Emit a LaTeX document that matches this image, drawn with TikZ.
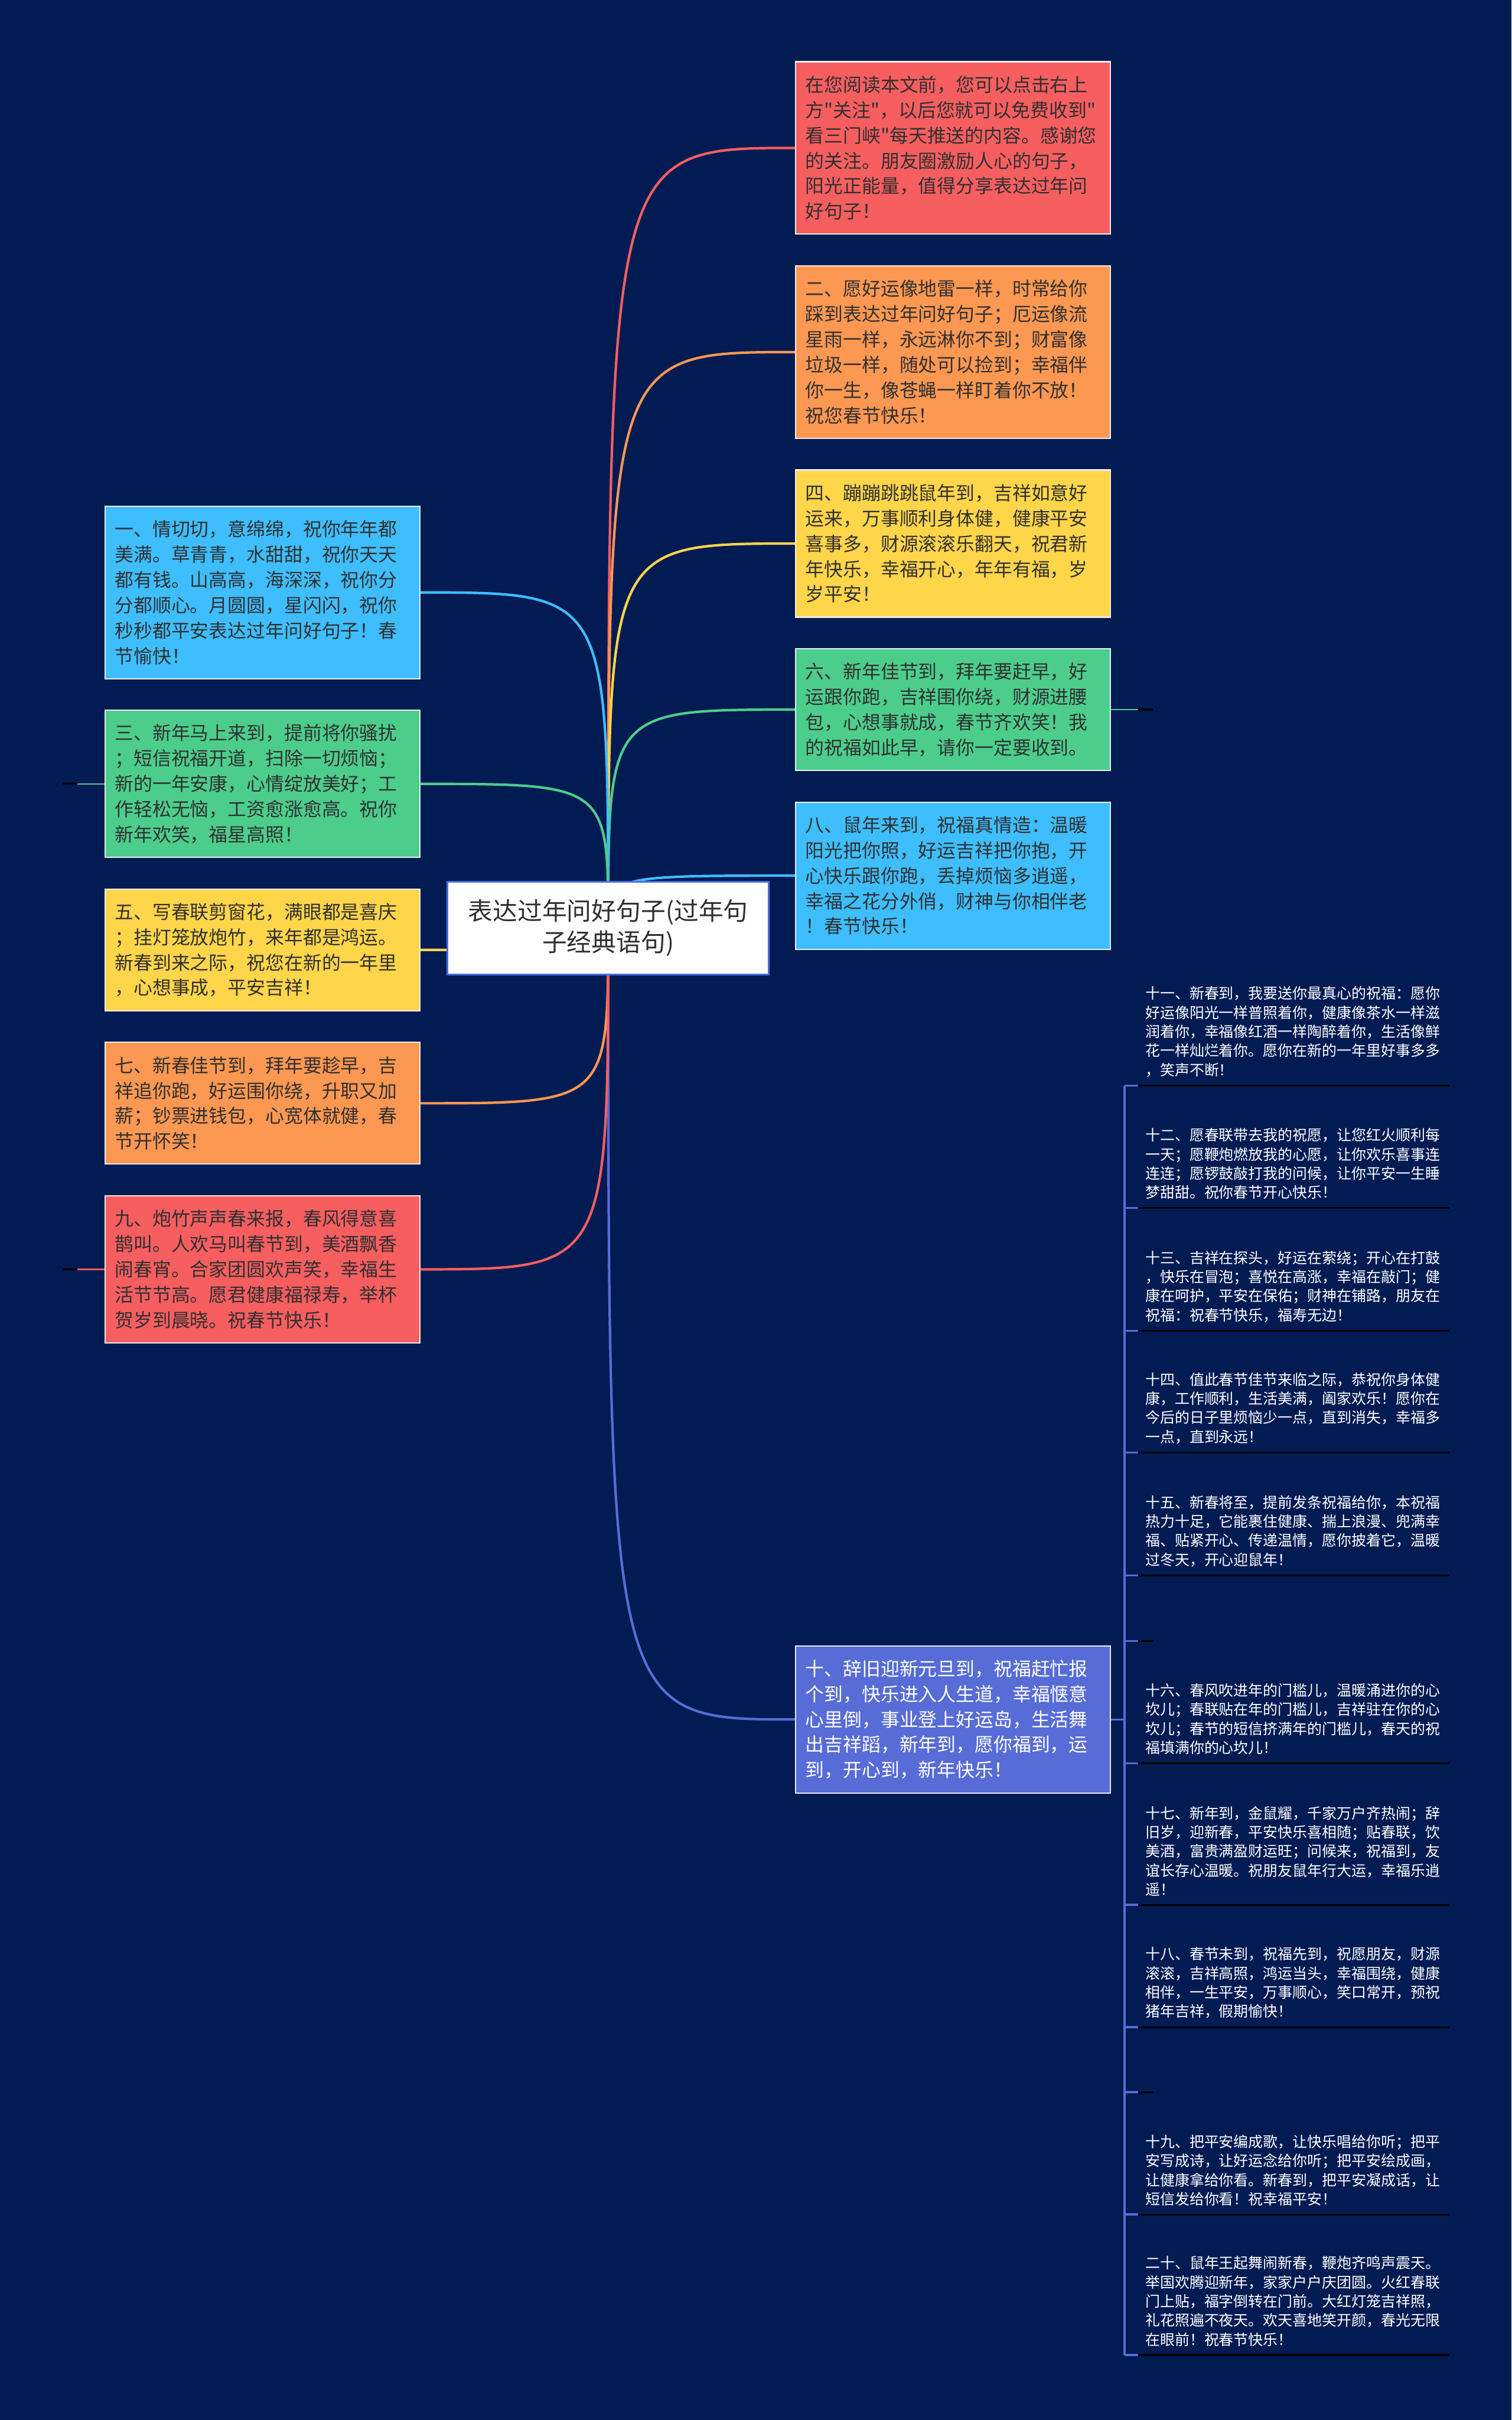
\documentclass[tikz,border=0pt]{standalone}
\usepackage{fontspec}
\setmainfont{Noto Sans CJK SC}
\newfontfamily\cjk{Noto Sans CJK SC}
\usepackage{xcolor}
\definecolor{bgnavy}{RGB}{2,27,83}
\definecolor{mred}{RGB}{246,94,96}
\definecolor{morange}{RGB}{253,152,82}
\definecolor{myellow}{RGB}{255,213,74}
\definecolor{mgreen}{RGB}{76,205,140}
\definecolor{msky}{RGB}{62,190,255}
\definecolor{mindigo}{RGB}{87,108,214}
\definecolor{rootline}{RGB}{74,112,222}
\definecolor{inktext}{RGB}{48,48,48}
\usepackage{tikz}
\usetikzlibrary{
    positioning
}
\tikzstyle{card} = [
    rectangle,
    draw=white!85!gray,
    line width=0.6pt,
    minimum width=5.33cm,
    text width=5.0cm,
    inner xsep=0.165cm,
    inner ysep=0.1cm,
    align=left,
    text=inktext,
    font=\cjk\fontsize{9.07}{12.2}\selectfont
]
\tikzstyle{rowssix} = [minimum height=2.92cm]
\tikzstyle{rowsfive} = [minimum height=2.49cm]
\tikzstyle{rowsfour} = [minimum height=2.06cm]
\tikzstyle{topic} = [
    rectangle,
    draw=rootline,
    fill=white,
    line width=0.8pt,
    minimum width=5.44cm,
    minimum height=1.57cm,
    align=center,
    text=inktext,
    font=\cjk\fontsize{11.9}{15}\selectfont
]
\tikzstyle{leaf} = [
    anchor=south west,
    inner xsep=0.12cm,
    inner ysep=0.14cm,
    text width=5.02cm,
    align=left,
    text=white,
    font=\cjk\fontsize{7.1}{9.2}\selectfont
]
\tikzstyle{link} = [
    line width=1.2pt
]
\tikzstyle{stub} = [
    line width=0.7pt
]
\tikzstyle{blank} = [
    line width=0.9pt,
    draw=black
]
\tikzstyle{fork} = [
    line width=1pt,
    draw=mindigo
]

\begin{document}
\begin{tikzpicture}[
    node distance=0.515cm
]
\useasboundingbox (0,0) rectangle (25.6,-40.97);
\fill[bgnavy] (0,0) rectangle (25.6,-40.97);

\coordinate (hub) at (10.30,-15.71);

% rechte Seite
\node (r1) [card, rowssix, fill=mred] at (16.14,-2.505)
    {在您阅读本文前，您可以点击右上\\方"关注"，以后您就可以免费收到"\\看三门峡"每天推送的内容。感谢您\\的关注。朋友圈激励人心的句子，\\阳光正能量，值得分享表达过年问\\好句子！};
\node (r2) [card, rowssix, fill=morange, below=of r1]
    {二、愿好运像地雷一样，时常给你\\踩到表达过年问好句子；厄运像流\\星雨一样，永远淋你不到；财富像\\垃圾一样，随处可以捡到；幸福伴\\你一生，像苍蝇一样盯着你不放！\\祝您春节快乐！};
\node (r3) [card, rowsfive, fill=myellow, below=of r2]
    {四、蹦蹦跳跳鼠年到，吉祥如意好\\运来，万事顺利身体健，健康平安\\喜事多，财源滚滚乐翻天，祝君新\\年快乐，幸福开心，年年有福，岁\\岁平安！};
\node (r4) [card, rowsfour, fill=mgreen, below=of r3]
    {六、新年佳节到，拜年要赶早，好\\运跟你跑，吉祥围你绕，财源进腰\\包，心想事就成，春节齐欢笑！我\\的祝福如此早，请你一定要收到。};
\node (r5) [card, rowsfive, fill=msky, below=of r4]
    {八、鼠年来到，祝福真情造：温暖\\阳光把你照，好运吉祥把你抱，开\\心快乐跟你跑，丢掉烦恼多逍遥，\\幸福之花分外俏，财神与你相伴老\\！春节快乐！};
\node (r10) [card, rowsfive, fill=mindigo, text=white] at (16.14,-29.11)
    {十、辞旧迎新元旦到，祝福赶忙报\\个到，快乐进入人生道，幸福惬意\\心里倒，事业登上好运岛，生活舞\\出吉祥蹈，新年到，愿你福到，运\\到，开心到，新年快乐！};

% linke Seite
\node (l1) [card, rowssix, fill=msky] at (4.445,-10.03)
    {一、情切切，意绵绵，祝你年年都\\美满。草青青，水甜甜，祝你天天\\都有钱。山高高，海深深，祝你分\\分都顺心。月圆圆，星闪闪，祝你\\秒秒都平安表达过年问好句子！春\\节愉快！};
\node (l3) [card, rowsfive, fill=mgreen, below=of l1]
    {三、新年马上来到，提前将你骚扰\\；短信祝福开道，扫除一切烦恼；\\新的一年安康，心情绽放美好；工\\作轻松无恼，工资愈涨愈高。祝你\\新年欢笑，福星高照！};
\node (l5) [card, rowsfour, fill=myellow, below=of l3]
    {五、写春联剪窗花，满眼都是喜庆\\；挂灯笼放炮竹，来年都是鸿运。\\新春到来之际，祝您在新的一年里\\，心想事成，平安吉祥！};
\node (l7) [card, rowsfour, fill=morange, below=of l5]
    {七、新春佳节到，拜年要趁早，吉\\祥追你跑，好运围你绕，升职又加\\薪；钞票进钱包，心宽体就健，春\\节开怀笑！};
\node (l9) [card, rowsfive, fill=mred, below=of l7]
    {九、炮竹声声春来报，春风得意喜\\鹊叫。人欢马叫春节到，美酒飘香\\闹春宵。合家团圆欢声笑，幸福生\\活节节高。愿君健康福禄寿，举杯\\贺岁到晨晓。祝春节快乐！};

% Verbindungen
\draw[link, mred] (hub) .. controls (hub |- r1.west) .. (r1.west);
\draw[link, morange] (hub) .. controls (hub |- r2.west) .. (r2.west);
\draw[link, myellow] (hub) .. controls (hub |- r3.west) .. (r3.west);
\draw[link, mgreen] (hub) .. controls (hub |- r4.west) .. (r4.west);
\draw[link, msky] (hub) .. controls (hub |- r5.west) .. (r5.west);
\draw[link, mindigo] (hub) .. controls (hub |- r10.west) .. (r10.west);
\draw[link, msky] (hub) .. controls (hub |- l1.east) .. (l1.east);
\draw[link, mgreen] (hub) .. controls (hub |- l3.east) .. (l3.east);
\draw[link, myellow] (hub) .. controls (hub |- l5.east) .. (l5.east);
\draw[link, morange] (hub) .. controls (hub |- l7.east) .. (l7.east);
\draw[link, mred] (hub) .. controls (hub |- l9.east) .. (l9.east);

\node (root) [topic] at (hub)
    {表达过年问好句子(过年句\\子经典语句)};

% leere Unterknoten
\draw[stub, mgreen] (l3.west) -- ++(-0.46,0) coordinate (l3end);
\draw[blank] (l3end) -- ++(-0.25,0);
\draw[stub, mred] (l9.west) -- ++(-0.46,0) coordinate (l9end);
\draw[blank] (l9end) -- ++(-0.25,0);
\draw[stub, mgreen] (r4.east) -- ++(0.46,0) coordinate (r4end);
\draw[blank] (r4end) -- ++(0.25,0);

% Liste rechts
\node (t11) [leaf] at (19.27,-18.38)
    {十一、新春到，我要送你最真心的祝福：愿你\\好运像阳光一样普照着你，健康像茶水一样滋\\润着你，幸福像红酒一样陶醉着你，生活像鲜\\花一样灿烂着你。愿你在新的一年里好事多多\\，笑声不断！};
\node (t12) [leaf] at (19.27,-20.45)
    {十二、愿春联带去我的祝愿，让您红火顺利每\\一天；愿鞭炮燃放我的心愿，让你欢乐喜事连\\连连；愿锣鼓敲打我的问候，让你平安一生睡\\梦甜甜。祝你春节开心快乐！};
\node (t13) [leaf] at (19.27,-22.53)
    {十三、吉祥在探头，好运在萦绕；开心在打鼓\\，快乐在冒泡；喜悦在高涨，幸福在敲门；健\\康在呵护，平安在保佑；财神在铺路，朋友在\\祝福：祝春节快乐，福寿无边！};
\node (t14) [leaf] at (19.27,-24.59)
    {十四、值此春节佳节来临之际，恭祝你身体健\\康，工作顺利，生活美满，阖家欢乐！愿你在\\今后的日子里烦恼少一点，直到消失，幸福多\\一点，直到永远！};
\node (t15) [leaf] at (19.27,-26.67)
    {十五、新春将至，提前发条祝福给你，本祝福\\热力十足，它能裹住健康、揣上浪漫、兜满幸\\福、贴紧开心、传递温情，愿你披着它，温暖\\过冬天，开心迎鼠年！};
\node (e1) [anchor=south west, inner sep=0, minimum width=0.25cm, minimum height=0.3cm] at (19.27,-27.78) {};
\node (t16) [leaf] at (19.27,-29.85)
    {十六、春风吹进年的门槛儿，温暖涌进你的心\\坎儿；春联贴在年的门槛儿，吉祥驻在你的心\\坎儿；春节的短信挤满年的门槛儿，春天的祝\\福填满你的心坎儿！};
\node (t17) [leaf] at (19.27,-32.25)
    {十七、新年到，金鼠耀，千家万户齐热闹；辞\\旧岁，迎新春，平安快乐喜相随；贴春联，饮\\美酒，富贵满盈财运旺；问候来，祝福到，友\\谊长存心温暖。祝朋友鼠年行大运，幸福乐逍\\遥！};
\node (t18) [leaf] at (19.27,-34.32)
    {十八、春节未到，祝福先到，祝愿朋友，财源\\滚滚，吉祥高照，鸿运当头，幸福围绕，健康\\相伴，一生平安，万事顺心，笑口常开，预祝\\猪年吉祥，假期愉快！};
\node (e2) [anchor=south west, inner sep=0, minimum width=0.25cm, minimum height=0.3cm] at (19.27,-35.42) {};
\node (t19) [leaf] at (19.27,-37.49)
    {十九、把平安编成歌，让快乐唱给你听；把平\\安写成诗，让好运念给你听；把平安绘成画，\\让健康拿给你看。新春到，把平安凝成话，让\\短信发给你看！祝幸福平安！};
\node (t20) [leaf] at (19.27,-39.87)
    {二十、鼠年王起舞闹新春，鞭炮齐鸣声震天。\\举国欢腾迎新年，家家户户庆团圆。火红春联\\门上贴，福字倒转在门前。大红灯笼吉祥照，\\礼花照遍不夜天。欢天喜地笑开颜，春光无限\\在眼前！祝春节快乐！};

\draw[fork] (r10.east) -- ++(0.23,0) coordinate (split);
\draw[fork] (split |- t11.south west) -- (split |- t20.south west);

\draw[fork] (split |- t11.south west) -- (t11.south west);
\draw[fork] (split |- t12.south west) -- (t12.south west);
\draw[fork] (split |- t13.south west) -- (t13.south west);
\draw[fork] (split |- t14.south west) -- (t14.south west);
\draw[fork] (split |- t15.south west) -- (t15.south west);
\draw[fork] (split |- e1.south west) -- (e1.south west);
\draw[fork] (split |- t16.south west) -- (t16.south west);
\draw[fork] (split |- t17.south west) -- (t17.south west);
\draw[fork] (split |- t18.south west) -- (t18.south west);
\draw[fork] (split |- e2.south west) -- (e2.south west);
\draw[fork] (split |- t19.south west) -- (t19.south west);
\draw[fork] (split |- t20.south west) -- (t20.south west);

\draw[blank] (t11.south west) -- (t11.south east);
\draw[blank] (t12.south west) -- (t12.south east);
\draw[blank] (t13.south west) -- (t13.south east);
\draw[blank] (t14.south west) -- (t14.south east);
\draw[blank] (t15.south west) -- (t15.south east);
\draw[blank] (e1.south west) -- (e1.south east);
\draw[blank] (t16.south west) -- (t16.south east);
\draw[blank] (t17.south west) -- (t17.south east);
\draw[blank] (t18.south west) -- (t18.south east);
\draw[blank] (e2.south west) -- (e2.south east);
\draw[blank] (t19.south west) -- (t19.south east);
\draw[blank] (t20.south west) -- (t20.south east);

\end{tikzpicture}
\end{document}
